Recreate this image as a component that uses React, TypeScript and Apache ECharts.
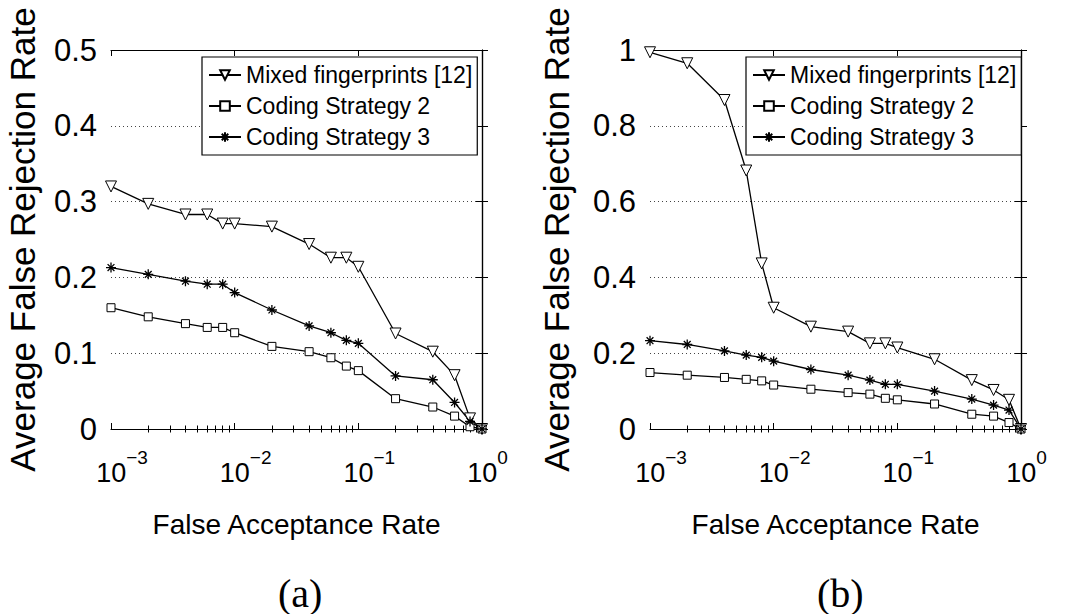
import React, { useEffect, useRef } from "react";
import * as echarts from "echarts";

// False acceptance rate (x values, shared by all curves)
const far = [0.001, 0.002, 0.004, 0.006, 0.008, 0.01, 0.02, 0.04, 0.06, 0.08, 0.1, 0.2, 0.4, 0.6, 0.8, 1];
const seriesNames = ["Mixed fingerprints [12]", "Coding Strategy 2", "Coding Strategy 3"];

// Panel (a)
const mixedA = [0.32, 0.297, 0.283, 0.283, 0.271, 0.271, 0.267, 0.244, 0.226, 0.226, 0.214, 0.126, 0.102, 0.071, 0.014, 0];
const cs2A = [0.16, 0.148, 0.139, 0.134, 0.134, 0.127, 0.109, 0.102, 0.094, 0.083, 0.077, 0.04, 0.029, 0.017, 0.003, 0];
const cs3A = [0.213, 0.204, 0.195, 0.191, 0.191, 0.18, 0.157, 0.136, 0.127, 0.117, 0.113, 0.07, 0.065, 0.035, 0.01, 0];

// Panel (b)
const mixedB = [0.994, 0.965, 0.868, 0.682, 0.437, 0.32, 0.27, 0.257, 0.226, 0.226, 0.215, 0.184, 0.129, 0.103, 0.077, 0];
const cs2B = [0.149, 0.142, 0.136, 0.131, 0.127, 0.116, 0.105, 0.096, 0.092, 0.081, 0.077, 0.066, 0.039, 0.034, 0.017, 0];
const cs3B = [0.233, 0.223, 0.206, 0.195, 0.189, 0.179, 0.157, 0.142, 0.129, 0.118, 0.118, 0.1, 0.079, 0.063, 0.05, 0];

// Axis settings
const xMin = 0.001;
const xMax = 1;
const yMaxA = 0.5;
const yStepA = 0.1;
const yMaxB = 1;
const yStepB = 0.2;
const decades = [-3, -2, -1];
const minorFactors = [2, 3, 4, 5, 6, 7, 8, 9];
const captions = ["(a)", "(b)"];
const xTitle = "False Acceptance Rate";
const yTitle = "Average False Rejection Rate";

const SANS = '"Liberation Sans", Arial, sans-serif';
const SERIF = '"Liberation Serif", "Times New Roman", serif';

const minorPos: number[] = [];
decades.forEach((d) => minorFactors.forEach((f) => minorPos.push(d + Math.log10(f))));

const STAR = "path://M5,0L5,10M0,5L10,5M1.6,1.6L8.4,8.4M1.6,8.4L8.4,1.6";

function xAxesFor(gridIndex: number) {
  const major = (pos: string, showLabel: boolean) => ({
    type: "log",
    logBase: 10,
    gridIndex,
    position: pos,
    min: xMin,
    max: xMax,
    name: showLabel ? xTitle : "",
    nameLocation: "middle",
    nameGap: 81,
    nameTextStyle: { fontFamily: SANS, fontSize: 28, color: "#000" },
    axisLine: { show: true, onZero: false, lineStyle: { color: "#000", width: 1.2 } },
    axisTick: { show: true, inside: true, length: 6, lineStyle: { color: "#000", width: 1 } },
    axisLabel: showLabel
      ? {
          show: true,
          margin: 19,
          color: "#000",
          formatter: (v: number) => {
            const e = Math.round(Math.log10(v));
            const sup = e === 0 ? "0" : "\u2212" + String(-e);
            return (e === 0 ? "{p0|}" : "{p|}") + "{b|10}{s|" + sup + "}";
          },
          rich: {
            p: { width: 22, height: 10 },
            p0: { width: 11, height: 10 },
            b: { fontFamily: SANS, fontSize: 27, color: "#000", lineHeight: 38, verticalAlign: "bottom" },
            s: { fontFamily: SANS, fontSize: 19, color: "#000", lineHeight: 19, verticalAlign: "top" },
          },
        }
      : { show: false },
    splitLine: { show: false },
  });
  const minor = (pos: string) => ({
    type: "value",
    gridIndex,
    position: pos,
    min: -3,
    max: 0,
    axisLine: { show: false },
    axisTick: { show: true, inside: true, length: 3.5, customValues: minorPos, lineStyle: { color: "#000", width: 1 } },
    axisLabel: { show: false },
    splitLine: { show: false },
  });
  return [major("bottom", true), major("top", false), minor("bottom"), minor("top")];
}

function yAxesFor(gridIndex: number, max: number, step: number, gap: number) {
  return [
    {
      type: "value",
      gridIndex,
      position: "left",
      min: 0,
      max,
      interval: step,
      name: yTitle,
      nameLocation: "middle",
      nameGap: gap,
      nameTextStyle: { fontFamily: SANS, fontSize: 35, color: "#000" },
      axisLine: { show: true, lineStyle: { color: "#000", width: 1.2 } },
      axisTick: { show: true, inside: true, length: 6, lineStyle: { color: "#000" } },
      axisLabel: { margin: 14, fontFamily: SANS, fontSize: 31, color: "#000" },
      splitLine: { show: true, lineStyle: { color: "#444", type: [1, 3], width: 1 } },
    },
    {
      type: "value",
      gridIndex,
      position: "right",
      min: 0,
      max,
      interval: step,
      axisLine: { show: true, lineStyle: { color: "#000", width: 1.2 } },
      axisTick: { show: true, inside: true, length: 6, lineStyle: { color: "#000" } },
      axisLabel: { show: false },
      splitLine: { show: false },
    },
  ];
}

function seriesFor(gi: number, vals: number[][]) {
  const symbols = ["triangle", "rect", STAR];
  const sizes = [11, 8, 10];
  const rot = [180, 0, 0];
  return vals.map((v, k) => ({
    type: "line",
    name: seriesNames[k],
    xAxisIndex: gi * 4,
    yAxisIndex: gi * 2,
    data: far.map((x, i) => [x, v[i]]),
    symbol: symbols[k],
    symbolSize: sizes[k],
    symbolRotate: rot[k],
    showAllSymbol: true,
    clip: false,
    itemStyle: { color: "#fff", borderColor: "#000", borderWidth: k === 2 ? 1.3 : 1 },
    lineStyle: { color: "#000", width: 1.3 },
    emphasis: { disabled: true },
  }));
}

function legendFor(left: number) {
  return {
    left,
    top: 57,
    orient: "vertical",
    data: seriesNames,
    itemWidth: 32,
    itemHeight: 12,
    itemGap: 3,
    padding: [4, 5, 4, 6],
    borderColor: "#000",
    borderWidth: 1.2,
    borderRadius: 0,
    backgroundColor: "#fff",
    selectedMode: false,
    textStyle: { fontFamily: SANS, fontSize: 23, color: "#000", lineHeight: 28 },
  };
}

export default function App() {
  const ref = useRef<HTMLDivElement>(null);
  useEffect(() => {
    if (!ref.current) return;
    const chart = echarts.init(ref.current, undefined, { renderer: "svg" });
    const option: any = {
      animation: false,
      backgroundColor: "#fff",
      grid: [
        { left: 111, top: 50, width: 371, height: 379 },
        { left: 650, top: 50, width: 371, height: 379 },
      ],
      xAxis: [...xAxesFor(0), ...xAxesFor(1)],
      yAxis: [...yAxesFor(0, yMaxA, yStepA, 71), ...yAxesFor(1, yMaxB, yStepB, 76)],
      legend: [legendFor(202), legendFor(746)],
      series: [...seriesFor(0, [mixedA, cs2A, cs3A]), ...seriesFor(1, [mixedB, cs2B, cs3B])],
      graphic: [
        { type: "text", left: 278, top: 573, style: { text: captions[0], fontFamily: SERIF, fontSize: 40, fill: "#000" } },
        { type: "text", left: 817, top: 573, style: { text: captions[1], fontFamily: SERIF, fontSize: 40, fill: "#000" } },
      ],
    };
    chart.setOption(option);
    return () => chart.dispose();
  }, []);
  return <div ref={ref} style={{ position: "fixed", left: 0, top: 0, width: 1068, height: 614 }} />;
}
